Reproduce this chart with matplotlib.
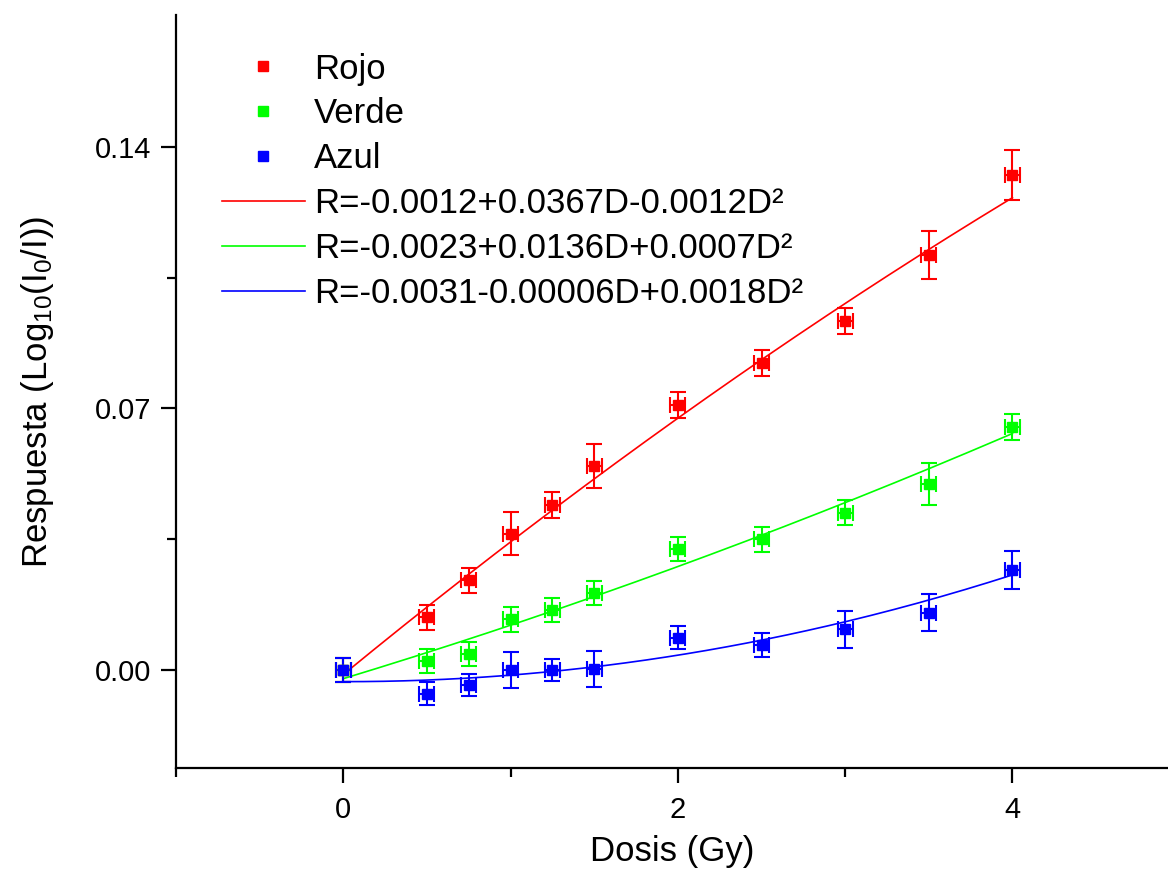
import numpy as np
import matplotlib
matplotlib.use('Agg')
import matplotlib.pyplot as plt
from matplotlib.lines import Line2D
from matplotlib.ticker import FixedLocator, FormatStrFormatter

plt.rcParams['font.family'] = ['Liberation Sans', 'DejaVu Sans']
plt.rcParams['mathtext.fontset'] = 'custom'
plt.rcParams['mathtext.rm'] = 'Liberation Sans'
plt.rcParams['mathtext.it'] = 'Liberation Sans'

# dose (Gy)
dosis = [0.0, 0.5, 0.75, 1.0, 1.25, 1.5, 2.0, 2.5, 3.0, 3.5, 4.0]
dosis_err = 0.045

# response per channel
rojo = [0.0, 0.0141, 0.0240, 0.0365, 0.0441, 0.0546, 0.0709, 0.0822, 0.0934, 0.1110, 0.1325]
rojo_err = [0.0032, 0.0033, 0.0034, 0.0057, 0.0035, 0.0058, 0.0035, 0.0035, 0.0036, 0.0064, 0.0068]
verde = [0.0, 0.0024, 0.0043, 0.0136, 0.0160, 0.0207, 0.0324, 0.0350, 0.0421, 0.0497, 0.0650]
verde_err = [0.0032, 0.0032, 0.0032, 0.0033, 0.0032, 0.0032, 0.0033, 0.0033, 0.0033, 0.0056, 0.0035]
azul = [0.0, -0.0063, -0.0040, 0.0, 0.0, 0.0003, 0.0087, 0.0067, 0.0109, 0.0154, 0.0268]
azul_err = [0.0032, 0.0031, 0.0030, 0.0049, 0.0030, 0.0049, 0.0031, 0.0031, 0.0050, 0.0050, 0.0051]

# quadratic fit coefficients (a, b, c): R = a + b*D + c*D^2
fit_rojo = (-0.0012, 0.0367, -0.0012)
fit_verde = (-0.0023, 0.0136, 0.0007)
fit_azul = (-0.0031, -0.00006, 0.0018)

labels_fit = ['R=-0.0012+0.0367D-0.0012D²',
              'R=-0.0023+0.0136D+0.0007D²',
              'R=-0.0031-0.00006D+0.0018D²']
labels_pts = ['Rojo', 'Verde', 'Azul']
colores = ['#ff0000', '#00ff00', '#0000ff']

fig = plt.figure(figsize=(11.68, 8.71), dpi=100)
ax = fig.add_axes([0.1507, 0.1183, 0.8493, 0.8645])

series = [(rojo, rojo_err, fit_rojo), (verde, verde_err, fit_verde), (azul, azul_err, fit_azul)]
dd = np.linspace(dosis[0], dosis[-1], 200)
for (vals, errs, coef), col in zip(series, colores):
    a, b, c = coef
    ax.plot(dd, a + b * dd + c * dd ** 2, color=col, lw=1.2, zorder=2)
for (vals, errs, coef), col in zip(series, colores):
    ax.errorbar(dosis, vals, yerr=errs, xerr=dosis_err, fmt='s', color=col,
                ms=7.5, elinewidth=1.5, capsize=5.5, capthick=1.5, zorder=3)

ax.set_xlim(-1, 4.93)
ax.set_ylim(-0.0262, 0.1753)

ax.xaxis.set_major_locator(FixedLocator([0, 2, 4]))
ax.xaxis.set_minor_locator(FixedLocator([-1, 1, 3]))
ax.yaxis.set_major_locator(FixedLocator([0.0, 0.07, 0.14]))
ax.yaxis.set_minor_locator(FixedLocator([0.035, 0.105]))
ax.yaxis.set_major_formatter(FormatStrFormatter('%.2f'))

ax.spines['top'].set_visible(False)
ax.spines['right'].set_visible(False)
for s in ['left', 'bottom']:
    ax.spines[s].set_linewidth(1.6)

ax.tick_params(which='major', direction='out', length=11, width=1.6, labelsize=21, pad=7)
ax.tick_params(which='minor', direction='out', length=6.5, width=1.6)
ax.tick_params(axis='x', which='major', pad=9)

ax.set_xlabel('Dosis (Gy)', fontsize=25, labelpad=8)
ax.set_ylabel('Respuesta (Log$_{10}$(I$_0$/I))', fontsize=25, labelpad=28)

handles = []
for col in colores:
    handles.append(Line2D([], [], ls='none', marker='s', color=col, ms=7.5))
for col in colores:
    handles.append(Line2D([], [], color=col, lw=1.2))

ax.legend(handles, labels_pts + labels_fit, loc='upper left',
          bbox_to_anchor=(0.046, 0.95), frameon=False, fontsize=25,
          handlelength=2.4, handletextpad=0.25, labelspacing=0.34,
          borderaxespad=0, borderpad=0)

fig.savefig('out.png', dpi=100)
